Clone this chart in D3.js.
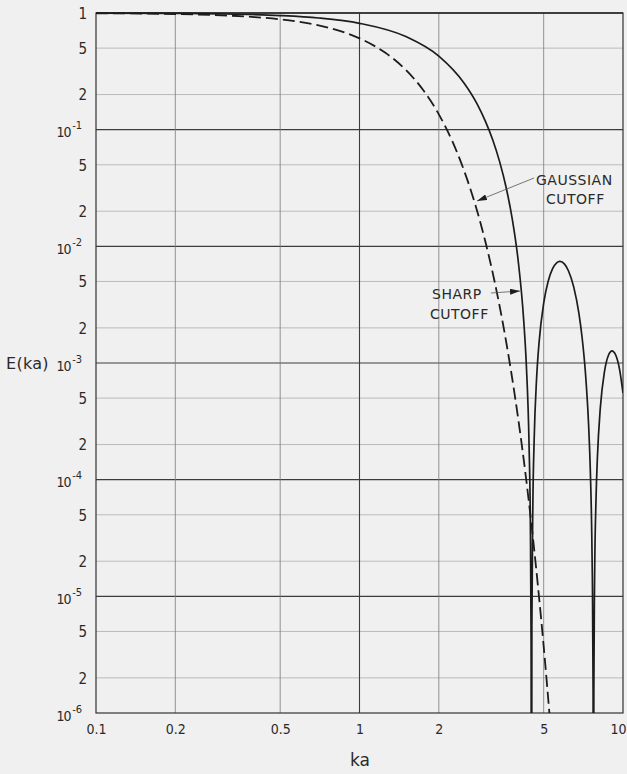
<!DOCTYPE html>
<html><head><meta charset="utf-8">
<script src="https://cdn.jsdelivr.net/npm/d3@7"></script>
<style>
body{margin:0;background:#f0f0f0}
svg{display:block}
.tick text{font-family:"Liberation Sans Narrow","DejaVu Sans Condensed","DejaVu Sans",sans-serif;font-stretch:condensed;fill:#2a2a2a}
</style></head>
<body><svg id="c" width="627" height="774"></svg>
<script>
// ---- data ----
const xTicks = [0.1, 0.2, 0.5, 1, 2, 5, 10];
const xTickLabels = ["0.1", "0.2", "0.5", "1", "2", "5", "10"];
const yTicks = [1, 0.5, 0.2, 1e-1, 5e-2, 2e-2, 1e-2, 5e-3, 2e-3, 1e-3, 5e-4, 2e-4, 1e-4, 5e-5, 2e-5, 1e-5, 5e-6, 2e-6, 1e-6];
const yTickBase = ["1", "5", "2", "10", "5", "2", "10", "5", "2", "10", "5", "2", "10", "5", "2", "10", "5", "2", "10"];
const yTickExp  = ["", "", "", "-1", "", "", "-2", "", "", "-3", "", "", "-4", "", "", "-5", "", "", "-6"];

// sharp cutoff (solid)
const sharpKa = [0.1,0.2,0.3,0.5,0.7,1,1.5,2,2.5,2.8,3,3.2,3.4,3.6,3.8,4,4.2,4.3,4.4,4.45,4.48,4.4934,4.51,4.55,4.6,4.7,4.8,5,5.2,5.4,5.6,5.76,6,6.2,6.5,6.8,7,7.2,7.4,7.5,7.6,7.65,7.7,7.7253,7.75,7.8,7.9,8,8.2,8.5,8.8,9.1,9.2,9.4,9.7,10];
const sharpE = [0.998,0.992,0.982,0.951,0.906,0.816,0.628,0.427,0.249,0.165,0.119,0.0824,0.0535,0.0321,0.0171,0.00758,0.00231,0.00093,0.000199,0.0000421,0.0000039,1e-9,0.0000057,0.000064,0.000217,0.00074,0.00148,0.00326,0.00502,0.0064,0.00722,0.00742,0.00704,0.00621,0.00449,0.00267,0.00163,0.00083,0.000302,0.00014,0.0000414,0.0000146,0.0000016,1e-9,0.0000015,0.0000133,0.0000687,0.000159,0.00041,0.000835,0.00116,0.00127,0.00125,0.00116,0.000887,0.000554];

// gaussian cutoff (dashed)
const gaussKa = [0.1,0.2,0.3,0.4,0.5,0.7,1,1.25,1.5,1.75,2,2.25,2.5,2.75,3,3.25,3.5,3.75,4,4.25,4.5,4.75,5,5.25,5.4];
const gaussE = [0.995,0.980,0.956,0.923,0.8825,0.7827,0.6065,0.4578,0.3247,0.2163,0.1353,0.0796,0.0439,0.0228,0.0111,0.00509,0.00219,0.000884,0.000335,0.00012,0.0000401,0.0000126,0.00000373,0.00000103,0.00000047];

// ---- layout ----
const svg = d3.select("#c");
const L = 96, T = 13, R = 623, B = 713;
const x = d3.scaleLog().domain([0.1, 10]).range([L, R]);
const y = d3.scaleLog().domain([1e-6, 1]).range([B, T]);

svg.append("rect").attr("width", 627).attr("height", 774).attr("fill", "#f0f0f0");

// grid: horizontal
const isDecade = v => Math.abs(Math.log10(v) - Math.round(Math.log10(v))) < 1e-9;
svg.append("g").selectAll("line").data(yTicks.filter(v => v < 1 && v > 1e-6)).join("line")
  .attr("x1", L).attr("x2", R)
  .attr("y1", d => y(d)).attr("y2", d => y(d))
  .attr("stroke", d => isDecade(d) ? "#3c3c3c" : "#b4b4b4")
  .attr("stroke-width", d => isDecade(d) ? 1.1 : 0.9);

// grid: vertical
svg.append("g").selectAll("line").data(xTicks.filter(v => v > 0.1 && v < 10)).join("line")
  .attr("y1", T).attr("y2", B)
  .attr("x1", d => x(d)).attr("x2", d => x(d))
  .attr("stroke", d => d === 1 ? "#3c3c3c" : "#7a7a7a")
  .attr("stroke-width", d => d === 1 ? 1.1 : 0.8);

// frame
svg.append("rect").attr("x", L).attr("y", T).attr("width", R - L).attr("height", B - T)
  .attr("fill", "none").attr("stroke", "#333").attr("stroke-width", 1.2);
svg.append("line").attr("x1", L).attr("x2", R).attr("y1", T).attr("y2", T)
  .attr("stroke", "#2a2a2a").attr("stroke-width", 1.6);

// axes (labels only)
const xAxis = d3.axisBottom(x).tickValues(xTicks).tickFormat((d, i) => xTickLabels[i]).tickSize(0).tickPadding(11);
const gx = svg.append("g").attr("transform", `translate(0,${B})`).call(xAxis);
gx.select(".domain").remove();
gx.selectAll("text").attr("font-size", 14)
  .attr("text-anchor", (d, i) => i === xTicks.length - 1 ? "end" : "middle")
  .attr("dx", (d, i) => i === xTicks.length - 1 ? 3 : 0);

const yAxis = d3.axisLeft(y).tickValues(yTicks).tickFormat(() => "").tickSize(0).tickPadding(8);
const gy = svg.append("g").attr("transform", `translate(${L},0)`).call(yAxis);
gy.select(".domain").remove();
gy.selectAll(".tick").each(function(d, i) {
  const t = d3.select(this).select("text").attr("font-size", 15);
  if (yTickExp[i]) {
    t.attr("dx", -6).attr("dy", "0.5em").attr("font-size", 14);
    t.append("tspan").attr("letter-spacing", -1).text(yTickBase[i]);
    t.append("tspan").attr("font-size", 11).attr("dy", -8).attr("dx", 1.5).text(yTickExp[i]);
  } else {
    t.attr("dx", -1).attr("dy", "0.35em").text(yTickBase[i]);
  }
});

// axis titles
svg.append("text").attr("x", 360).attr("y", 766).attr("text-anchor", "middle")
  .attr("font-family", "DejaVu Sans, sans-serif").attr("font-size", 17).attr("fill", "#2a2a2a").text("ka");
svg.append("text").attr("x", 6).attr("y", 369).attr("text-anchor", "start")
  .attr("font-family", "DejaVu Sans, sans-serif").attr("font-size", 16).attr("letter-spacing", 0.3)
  .attr("fill", "#2a2a2a").text("E(ka)");

// curves
svg.append("clipPath").attr("id", "clip").append("rect")
  .attr("x", L).attr("y", T - 2).attr("width", R - L).attr("height", B - T + 2);
const line = d3.line().x(d => x(d[0])).y(d => y(d[1])).curve(d3.curveMonotoneX);
const g = svg.append("g").attr("clip-path", "url(#clip)");
g.append("path").attr("d", line(d3.zip(sharpKa, sharpE)))
  .attr("fill", "none").attr("stroke", "#1c1c1c").attr("stroke-width", 1.7);
g.append("path").attr("d", line(d3.zip(gaussKa, gaussE)))
  .attr("fill", "none").attr("stroke", "#1c1c1c").attr("stroke-width", 1.8)
  .attr("stroke-dasharray", "12,5");

// annotations
svg.append("defs").append("marker").attr("id", "arr").attr("viewBox", "0 0 10 6")
  .attr("refX", 10).attr("refY", 3).attr("markerWidth", 10).attr("markerHeight", 6)
  .attr("markerUnits", "userSpaceOnUse").attr("orient", "auto")
  .append("path").attr("d", "M0,0 L10,3 L0,6 Z").attr("fill", "#1c1c1c");

const lab = svg.append("g").attr("font-family", "DejaVu Sans, sans-serif").attr("font-size", 14)
  .attr("fill", "#2a2a2a").attr("letter-spacing", 0.5);
lab.append("text").attr("x", 536).attr("y", 185).text("GAUSSIAN");
lab.append("text").attr("x", 546).attr("y", 204).text("CUTOFF");
lab.append("text").attr("x", 432).attr("y", 299).text("SHARP");
lab.append("text").attr("x", 430).attr("y", 319).text("CUTOFF");

svg.append("line").attr("x1", 534).attr("y1", 178).attr("x2", 477).attr("y2", 201)
  .attr("stroke", "#555").attr("stroke-width", 0.8).attr("marker-end", "url(#arr)");
svg.append("line").attr("x1", 491).attr("y1", 293).attr("x2", 520).attr("y2", 291)
  .attr("stroke", "#555").attr("stroke-width", 0.8).attr("marker-end", "url(#arr)");
</script>
</body></html>
